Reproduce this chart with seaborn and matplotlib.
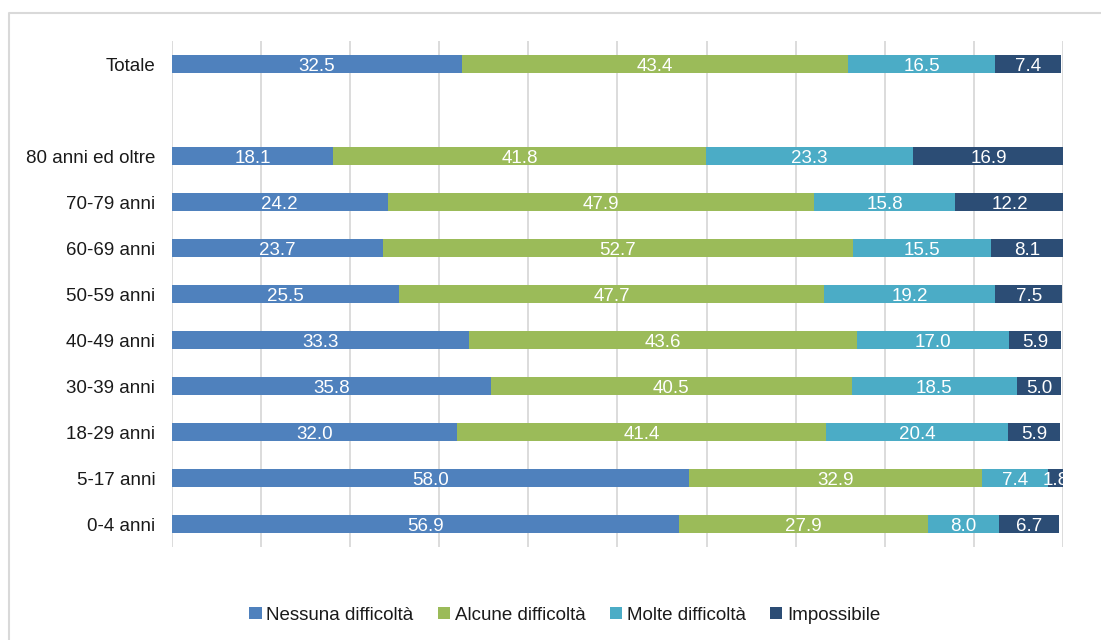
import matplotlib
matplotlib.use("Agg")
import matplotlib.pyplot as plt
from matplotlib.patches import Patch
from matplotlib.lines import Line2D
import numpy as np
import pandas as pd
import seaborn as sns

# Age groups (top to bottom); a blank slot separates the total from the age groups
categories = ["Totale", "80 anni ed oltre", "70-79 anni", "60-69 anni", "50-59 anni",
              "40-49 anni", "30-39 anni", "18-29 anni", "5-17 anni", "0-4 anni"]
row_order = ["Totale", " ", "80 anni ed oltre", "70-79 anni", "60-69 anni", "50-59 anni",
             "40-49 anni", "30-39 anni", "18-29 anni", "5-17 anni", "0-4 anni"]

nessuna = [32.5, 18.1, 24.2, 23.7, 25.5, 33.3, 35.8, 32.0, 58.0, 56.9]
alcune = [43.4, 41.8, 47.9, 52.7, 47.7, 43.6, 40.5, 41.4, 32.9, 27.9]
molte = [16.5, 23.3, 15.8, 15.5, 19.2, 17.0, 18.5, 20.4, 7.4, 8.0]
impossibile = [7.4, 16.9, 12.2, 8.1, 7.5, 5.9, 5.0, 5.9, 1.8, 6.7]

series_names = ["Nessuna difficoltà", "Alcune difficoltà", "Molte difficoltà", "Impossibile"]
colors = ["#4F81BD", "#9BBB59", "#4BACC6", "#2C4D75"]

sns.set_theme(style="white")
plt.rcParams["font.family"] = ["Liberation Sans", "DejaVu Sans"]

series = [nessuna, alcune, molte, impossibile]
df = pd.DataFrame({"cat": categories})
for name, vals in zip(series_names, series):
    df[name] = vals
cum = df[series_names].cumsum(axis=1)
for name in series_names:
    df["cum_" + name] = cum[name]

fig = plt.figure(figsize=(11.01, 6.40), dpi=100)
ax = fig.add_axes([0.1562, 0.1453, 0.8093, 0.7906])

# Stacked bars: draw cumulative totals from the widest down
for i in reversed(range(len(series_names))):
    sns.barplot(data=df, x="cum_" + series_names[i], y="cat", order=row_order,
                color=colors[i], saturation=1, width=0.41, errorbar=None,
                linewidth=0, orient="h", ax=ax, zorder=2)

# Value labels centred in each segment
pos = {c: row_order.index(c) for c in categories}
for i, name in enumerate(series_names):
    for _, row in df.iterrows():
        v = row[name]
        mid = row["cum_" + name] - v / 2
        ax.text(mid, pos[row["cat"]], f"{v:.1f}", ha="center", va="center_baseline",
                color="white", fontsize=13.5, clip_on=True, zorder=3)

ax.set_xlim(0, 100)
ax.set_xticks(np.arange(0, 101, 10))
ax.grid(axis="x", color="#D9D9D9", linewidth=1.3, zorder=0)
ax.set_axisbelow(True)
ax.tick_params(axis="x", length=0, labelbottom=False)
ax.tick_params(axis="y", length=0, pad=12, labelsize=13.5, labelcolor="#1a1a1a")
ax.set_xlabel("")
ax.set_ylabel("")
for s in ax.spines.values():
    s.set_visible(False)

handles = [Patch(facecolor=c, edgecolor="none") for c in colors]
fig.legend(handles, series_names, loc="center", bbox_to_anchor=(0.513, 0.039),
           ncol=4, frameon=False, fontsize=13.5, handlelength=0.65, handleheight=0.65,
           handletextpad=0.25, columnspacing=1.3, labelcolor="#1a1a1a")

# Chart-area frame (left and top edges)
frame = Line2D([0.0082, 0.0082, 1.0], [0.0, 0.9797, 0.9797], transform=fig.transFigure,
               color="#D9D9D9", linewidth=1.5)
fig.add_artist(frame)

fig.savefig("out.png", dpi=100, facecolor="white")
